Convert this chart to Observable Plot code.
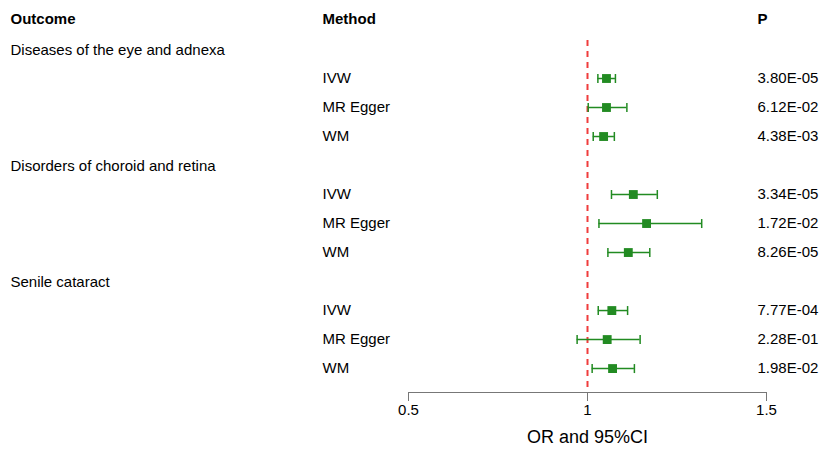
<!DOCTYPE html>
<html>
<head>
<meta charset="utf-8">
<script src="https://cdn.jsdelivr.net/npm/d3@7"></script>
<script src="https://cdn.jsdelivr.net/npm/@observablehq/plot@0.6"></script>
<style>
  html, body { margin: 0; padding: 0; background: #fff; }
  #chart svg { display: block; }
</style>
</head>
<body>
<div id="chart"></div>
<script>
const outcomes = ["Diseases of the eye and adnexa", "Disorders of choroid and retina", "Senile cataract"];
const methods = ["IVW", "MR Egger", "WM"];
const orValues = [1.053, 1.053, 1.045, 1.128, 1.165, 1.114, 1.068, 1.055, 1.070];
const ciLow    = [1.029, 1.002, 1.016, 1.067, 1.032, 1.057, 1.030, 0.971, 1.013];
const ciHigh   = [1.078, 1.110, 1.075, 1.195, 1.319, 1.174, 1.112, 1.147, 1.131];
const pValues  = ["3.80E-05", "6.12E-02", "4.38E-03", "3.34E-05", "1.72E-02", "8.26E-05", "7.77E-04", "2.28E-01", "1.98E-02"];
const xTicks = [0.5, 1, 1.5];
const headers = ["Outcome", "Method", "P"];

// build rows: 0 = header, then each outcome group followed by its methods
const groupRows = [];
const itemRows = [];
let r = 1;
outcomes.forEach((o, gi) => {
  groupRows.push({row: r, label: o});
  r++;
  methods.forEach((m, mi) => {
    const k = gi * methods.length + mi;
    itemRows.push({row: r, method: m, or: orValues[k], lo: ciLow[k], hi: ciHigh[k], p: pValues[k]});
    r++;
  });
});
const lastRow = r - 1;
const yMax = lastRow + 0.86;

const capSymbol = {
  draw(context, size) {
    const h = Math.sqrt(size / Math.PI);
    context.moveTo(0, -h);
    context.lineTo(0, h);
  }
};

const green = "#228B22";
const font = "Liberation Sans, Arial, sans-serif";

const chart = Plot.plot({
  width: 835,
  height: 450,
  marginLeft: 408,
  marginRight: 69,
  marginTop: 19,
  marginBottom: 58,
  style: {fontFamily: font, fontSize: "15px", color: "#000", background: "#fff"},
  x: {domain: [0.5, 1.5]},
  y: {domain: [0, yMax], reverse: true, axis: null},
  marks: [
    // headers
    Plot.text([headers[0]], {y: () => 0, text: d => d, frameAnchor: "left", dx: 10 - 408, textAnchor: "start", fontWeight: "bold", fontSize: 15, fill: "#000"}),
    Plot.text([headers[1]], {y: () => 0, text: d => d, frameAnchor: "left", dx: 322 - 408, textAnchor: "start", fontWeight: "bold", fontSize: 15, fill: "#000"}),
    Plot.text([headers[2]], {y: () => 0, text: d => d, frameAnchor: "left", dx: 757 - 408, textAnchor: "start", fontWeight: "bold", fontSize: 15, fill: "#000"}),
    // group labels
    Plot.text(groupRows, {y: "row", text: "label", frameAnchor: "left", dx: 10 - 408, dy: 2, textAnchor: "start", fontSize: 15, fill: "#000"}),
    // method labels
    Plot.text(itemRows, {y: "row", text: "method", frameAnchor: "left", dx: 322 - 408, dy: 1, textAnchor: "start", fontSize: 15, fill: "#000"}),
    // p values
    Plot.text(itemRows, {y: "row", text: "p", frameAnchor: "left", dx: 757 - 408, dy: 1, textAnchor: "start", fontSize: 15, fill: "#000"}),
    // reference line
    Plot.ruleX([{x: 1, y1: 0.72, y2: yMax}], {x: "x", y1: "y1", y2: "y2", stroke: "#f03c3c", strokeWidth: 2, strokeDasharray: "6,5"}),
    // CI lines
    Plot.ruleY(itemRows, {y: "row", x1: "lo", x2: "hi", stroke: green, strokeWidth: 1.5, dy: 1}),
    Plot.dot(itemRows, {x: "lo", y: "row", symbol: capSymbol, r: 4.5, stroke: green, strokeWidth: 1.5, dy: 1}),
    Plot.dot(itemRows, {x: "hi", y: "row", symbol: capSymbol, r: 4.5, stroke: green, strokeWidth: 1.5, dy: 1}),
    Plot.dot(itemRows, {x: "or", y: "row", symbol: "square", r: 5, fill: green, stroke: "none", dy: 1}),
    // x axis
    Plot.ruleY([{y: yMax, a: xTicks[0], b: xTicks[xTicks.length - 1]}], {y: "y", x1: "a", x2: "b", stroke: "#777", strokeWidth: 1}),
    Plot.axisX({ticks: xTicks, tickSize: 9, tickPadding: 3, tickFormat: d => String(d), label: null, fontSize: 15, stroke: "#777", fill: "#000"}),
    Plot.text(["OR and 95%CI"], {x: () => 1, text: d => d, frameAnchor: "bottom", dy: 50, fontSize: 18, fill: "#000"})
  ]
});
document.getElementById("chart").appendChild(chart);
</script>
</body>
</html>
